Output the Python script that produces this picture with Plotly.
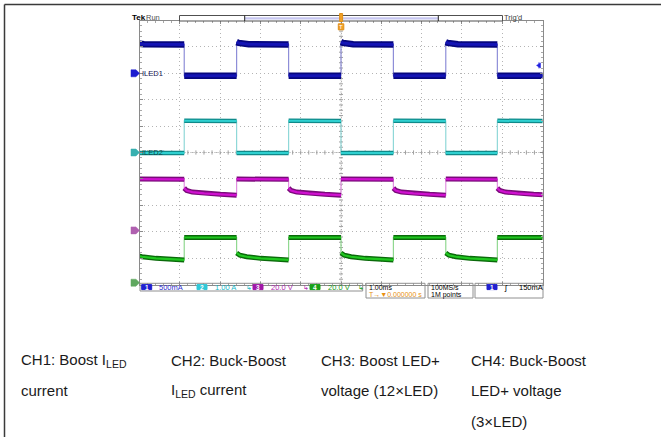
import plotly.graph_objects as go

W, H = 661, 437

# ---------------- data ----------------
# Time base 1.00 ms/div, trigger at t = 0 (screen centre). Edge instants in ms.
edge_times_ms = [-5.19, -3.89, -2.59, -1.30, 0.00, 1.30, 2.60, 3.88, 5.18]

# Channel 1: Boost I_LED (A), 500 mA/div
ch1_start_high = True
ch1_high_dt = [0.0, 0.05, 0.30, 1.30]
ch1_high_v = [0.59, 0.575, 0.55, 0.545]
ch1_low_dt = [0.0, 1.30]
ch1_low_v = [-0.045, -0.045]

# Channel 2: Buck-Boost I_LED (A), 1.00 A/div
ch2_start_high = False
ch2_high_dt = [0.0, 1.30]
ch2_high_v = [1.20, 1.19]
ch2_low_dt = [0.0, 1.30]
ch2_low_v = [-0.02, -0.02]

# Channel 3: Boost LED+ voltage (V), 20.0 V/div
ch3_start_high = True
ch3_high_dt = [0.0, 1.30]
ch3_high_v = [38.9, 38.7]
ch3_low_dt = [0.0, 0.06, 0.20, 0.50, 0.90, 1.30]
ch3_low_v = [32.0, 30.2, 29.0, 28.0, 27.3, 26.7]

# Channel 4: Buck-Boost LED+ voltage (V), 20.0 V/div
ch4_start_high = False
ch4_high_dt = [0.0, 1.30]
ch4_high_v = [34.2, 34.2]
ch4_low_dt = [0.0, 0.08, 0.25, 0.60, 1.30]
ch4_low_v = [22.5, 20.8, 19.6, 18.4, 17.2]

# scope settings: volts(amps)/div and ground offset (div)
ch_scale = [0.5, 1.0, 20.0, 20.0]
ch_offset = [3.0, 0.0, -2.95, -4.93]

status_labels = ["500mA", "1.00 A", "20.0 V", "20.0 V"]
caption_row1 = ["CH1: Boost I<sub>LED</sub>", "CH2: Buck-Boost", "CH3: Boost LED+", "CH4: Buck-Boost"]
caption_row2 = ["current", "I<sub>LED</sub> current", "voltage (12×LED)", "LED+ voltage"]
caption_row3 = ["", "", "", "(3×LED)"]

# ---------------- helpers ----------------
def px(x):
    return x / W

def py(y):
    return 1 - y / H

def build(start_high, hi, lo, scale, off):
    xs, ys = [], []
    for i in range(len(edge_times_ms) - 1):
        t0, t1 = edge_times_ms[i], edge_times_ms[i + 1]
        high = start_high if i % 2 == 0 else (not start_high)
        dts, vs = hi if high else lo
        for dt, v in zip(dts, vs):
            xs.append(min(t0 + dt, t1))
            ys.append(off + v / scale)
        xs.append(None)
        ys.append(None)
    return xs, ys

channels = [
    (ch1_start_high, (ch1_high_dt, ch1_high_v), (ch1_low_dt, ch1_low_v)),
    (ch2_start_high, (ch2_high_dt, ch2_high_v), (ch2_low_dt, ch2_low_v)),
    (ch3_start_high, (ch3_high_dt, ch3_high_v), (ch3_low_dt, ch3_low_v)),
    (ch4_start_high, (ch4_high_dt, ch4_high_v), (ch4_low_dt, ch4_low_v)),
]
# (edge colour, band colour, core colour, band width, core width)
styles = [
    ("#8e8ed8", "#06067e", "#1414b4", 6.5, 3.0),
    ("#8fd8d8", "#0f8a8a", "#2fd0d0", 4.5, 2.0),
    ("#e090e0", "#7a0a7a", "#d010d0", 5.0, 2.2),
    ("#90d890", "#0a6a0a", "#20c820", 5.0, 2.2),
]

fig = go.Figure()
for i, (sh, hi, lo) in enumerate(channels):
    xs, ys = build(sh, hi, lo, ch_scale[i], ch_offset[i])
    ec, bc, cc, bw, cw = styles[i]
    fig.add_trace(go.Scatter(x=xs, y=ys, mode="lines", connectgaps=True,
                             line=dict(color=ec, width=1.2), hoverinfo="skip", showlegend=False))
    fig.add_trace(go.Scatter(x=xs, y=ys, mode="lines", connectgaps=False,
                             line=dict(color=bc, width=bw), hoverinfo="skip", showlegend=False))
    fig.add_trace(go.Scatter(x=xs, y=ys, mode="lines", connectgaps=False,
                             line=dict(color=cc, width=cw), hoverinfo="skip", showlegend=False))

X0, X1, Y0, Y1 = 139.5, 542.5, 20.5, 284.5
axis_common = dict(showticklabels=False, zeroline=False, showline=True, linecolor="#8a8a8a",
                   linewidth=1, mirror="ticks", ticks="inside", ticklen=3, tickcolor="#8a8a8a",
                   dtick=1, tick0=0, showgrid=True, gridcolor="#b4b4b4", griddash="1px,3px",
                   gridwidth=1, fixedrange=True,
                   minor=dict(dtick=0.2, ticks="inside", ticklen=2, tickcolor="#a8a8a8", showgrid=False))
fig.update_layout(
    width=W, height=H, autosize=False,
    margin=dict(l=0, r=0, t=0, b=0),
    paper_bgcolor="white", plot_bgcolor="white",
    xaxis=dict(range=[-5, 5], domain=[px(X0), px(X1)], **axis_common),
    yaxis=dict(range=[-5, 5], domain=[py(Y1), py(Y0)], **axis_common),
    showlegend=False,
)

shapes = []
# centre crosshair with fine ticks
shapes.append(dict(type="line", xref="x", yref="y", x0=0, x1=0, y0=-5, y1=5,
                   line=dict(color="#a0a0a0", width=1, dash="1px,2px"), layer="between"))
shapes.append(dict(type="line", xref="x", yref="y", x0=-5, x1=5, y0=0, y1=0,
                   line=dict(color="#a0a0a0", width=1, dash="1px,2px"), layer="between"))
for k in range(-25, 26):
    v = k * 0.2
    shapes.append(dict(type="line", xref="x", yref="y", x0=v, x1=v, y0=-0.08, y1=0.08,
                       line=dict(color="#a0a0a0", width=1), layer="between"))
    shapes.append(dict(type="line", xref="x", yref="y", x0=-0.05, x1=0.05, y0=v, y1=v,
                       line=dict(color="#a0a0a0", width=1), layer="between"))

def prect(x0, y0, x1, y1, fill="rgba(0,0,0,0)", line="#8a8a8a", lw=1):
    shapes.append(dict(type="rect", xref="paper", yref="paper", x0=px(x0), x1=px(x1),
                       y0=py(y1), y1=py(y0), fillcolor=fill, line=dict(color=line, width=lw)))

def pline(x0, y0, x1, y1, color="#444", lw=1):
    shapes.append(dict(type="line", xref="paper", yref="paper", x0=px(x0), x1=px(x1),
                       y0=py(y0), y1=py(y1), line=dict(color=color, width=lw)))

def ppath(pts, fill, line=None):
    d = "M " + " L ".join(f"{px(a):.5f},{py(b):.5f}" for a, b in pts) + " Z"
    shapes.append(dict(type="path", xref="paper", yref="paper", path=d, fillcolor=fill,
                       line=dict(color=line or fill, width=0.5)))

# page frame
pline(4.5, 4.5, 661, 4.5, "#3a3a3a", 1.5)
pline(4.5, 4.5, 4.5, 437, "#3a3a3a", 1.5)

# record bar
prect(179.5, 15.5, 502.5, 21, fill="white", line="#505050")
prect(244.7, 17.2, 438.3, 19.4, fill="#c6c6f0", line="#c6c6f0", lw=0)
pline(244.7, 15.5, 244.7, 21, "#202020", 1)
pline(438.3, 15.5, 438.3, 21, "#202020", 1)
prect(339.6, 13.5, 342.6, 21.5, fill="#f0a028", line="#e09018")
prect(338.3, 23.8, 343.8, 29.8, fill="#f0a028", line="#e09018")

# channel ground markers (left)
mk_cols = ["#1c1cd0", "#38b0b0", "#b060b0", "#60a860"]
for i, c in enumerate(mk_cols):
    yc = 152.5 - ch_offset[i] * 26.4
    if i == 3:
        yc = 282.7
    ppath([(131, yc - 3.5), (136, yc - 3.5), (139.5, yc), (136, yc + 3.5), (131, yc + 3.5)], c)

# trigger level marker (right), 150 mA on ch1
ytr = 152.5 - (ch_offset[0] + 0.15 / ch_scale[0]) * 26.4
ppath([(536.5, ytr), (540.5, ytr - 2.5), (540.5, ytr + 2.5)], "#2020e0")
pline(539, ytr - 3, 539, ytr + 3, "#2020e0", 1)

# status bar boxes
prect(140, 283.3, 362.7, 291, line="#909090")
prect(366, 283.3, 425, 298, line="#909090")
prect(428, 283.3, 473, 298, line="#909090")
prect(475, 283.3, 543, 298, line="#909090")

pill_x = [141.7, 197, 253, 310]
pill_cols = ["#2020d0", "#30c8d8", "#a018a8", "#18a018"]
txt_cols = ["#3030d0", "#20b8c8", "#b028b0", "#209c20"]
for i in range(4):
    prect(pill_x[i], 284.6, pill_x[i] + 10, 289.6, fill=pill_cols[i], line=pill_cols[i])
prect(487, 284.6, 497, 289.6, fill=pill_cols[0], line=pill_cols[0])

fig.update_layout(shapes=shapes)

ann = []

def text(x, y, s, size=7.5, color="#000", bold=False, xanchor="left", family="Arial, Liberation Sans"):
    if bold:
        s = "<b>" + s + "</b>"
    ann.append(dict(x=px(x), y=py(y), xref="paper", yref="paper", text=s, showarrow=False,
                    xanchor=xanchor, yanchor="middle", borderpad=0,
                    font=dict(size=size, color=color, family=family)))

text(130.5, 18, "Tek", 8, "#000", bold=True)
text(145, 18, "Run", 7.5, "#505050")
text(503, 18, "Trig'd", 7.5, "#404040")
text(341.1, 26.9, "T", 6, "white", xanchor="center")
text(141, 73, "ILED1", 7.5, "#101050")
text(141, 152.3, "ILED2", 7.5, "#104848")

for i in range(4):
    text(pill_x[i] + 5, 287.2, str(i + 1), 6.5, "white", bold=True, xanchor="center")
    text(pill_x[i] + 16.5, 287.2, status_labels[i], 7.5, txt_cols[i])
for xs_, c in [(245, "#20b8c8"), (302, "#b028b0"), (357, "#209c20")]:
    text(xs_, 287.2, "↳", 6.5, c)
text(368, 287.2, "1.00ms", 7, "#000")
text(368, 294.6, "T→▼0.000000 s", 7, "#e89010")
text(430, 287.2, "100MS/s", 7, "#000")
text(430, 294.6, "1M points", 7, "#000")
text(492, 287.2, "1", 6.5, "white", bold=True, xanchor="center")
text(503, 287.2, "ʃ", 8, "#000")
text(518, 287.2, "150mA", 7.5, "#000")

col_x = [20, 170, 320, 470]
row_y = [360, 390, 421]
for j, row in enumerate([caption_row1, caption_row2, caption_row3]):
    for i, s in enumerate(row):
        if s:
            text(col_x[i], row_y[j], s, 15, "#1a1a1a")

fig.update_layout(annotations=ann)
fig.write_html("out.html", config={"displayModeBar": False},
               post_script="document.body.style.margin='0px';document.body.style.overflow='hidden';")
